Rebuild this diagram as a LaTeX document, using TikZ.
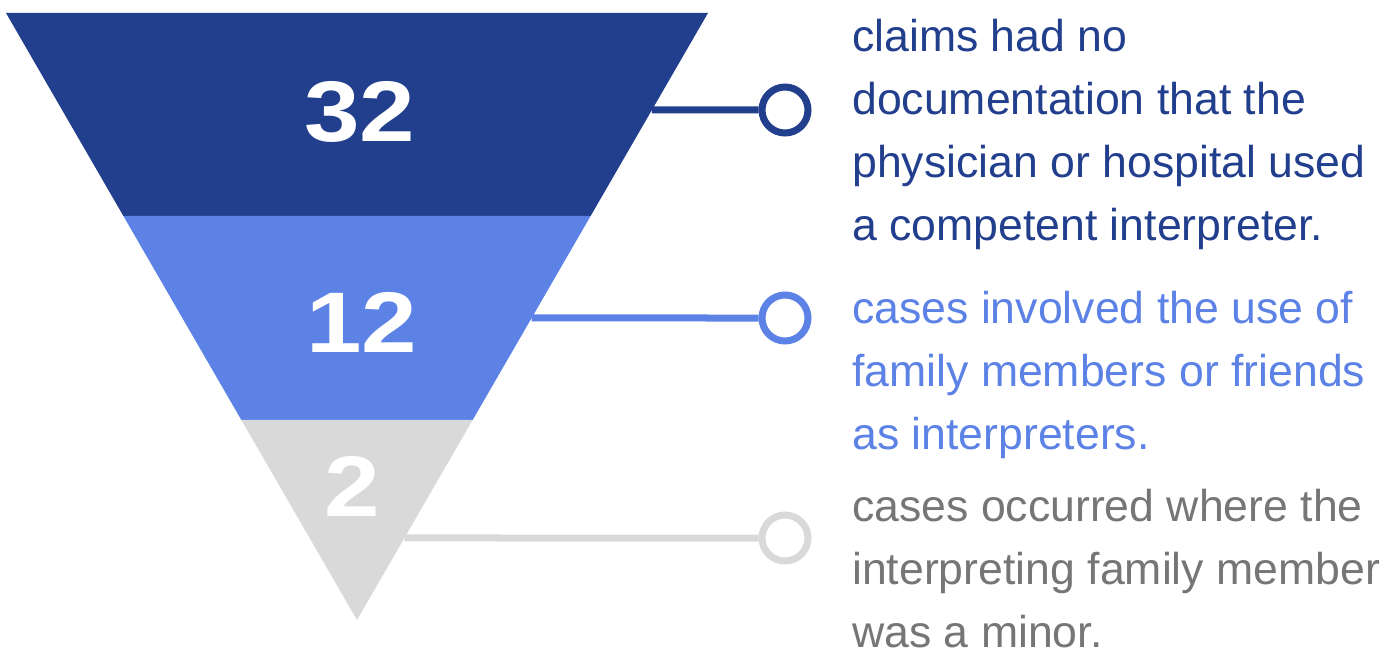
\documentclass[tikz,border=0pt]{standalone}
\usepackage{fontspec}
\setmainfont{Liberation Sans}
\usetikzlibrary{calc}
\definecolor{dblue}{HTML}{223F8E}
\definecolor{mblue}{HTML}{5C82E6}
\definecolor{lgray}{HTML}{D9D9D9}
\definecolor{tgray}{HTML}{767676}
\begin{document}
\begin{tikzpicture}[x=1pt,y=-1pt,
  num/.style={anchor=base,text=white,inner sep=0pt,font=\fontsize{86}{86}\selectfont\bfseries},
  desc/.style={anchor=base west,inner sep=0pt,font=\fontsize{44.6}{63}\selectfont},
  ring/.style={circle,draw,line width=7pt,minimum size=46pt,inner sep=0pt,fill=white},
  conn/.style={line width=7pt}]
\useasboundingbox (0,0) rectangle (1400,650);
% triangle corners
\coordinate (tl) at (6,13);
\coordinate (tr) at (708,13);
\coordinate (ap) at (357,620);
\coordinate (l1) at ($(tl)!203/607!(ap)$);
\coordinate (r1) at ($(tr)!203/607!(ap)$);
\coordinate (l2) at ($(tl)!407/607!(ap)$);
\coordinate (r2) at ($(tr)!407/607!(ap)$);
\fill[dblue] (tl) -- (tr) -- (r1) -- (l1) -- cycle;
\fill[mblue] (l1) -- (r1) -- (r2) -- (l2) -- cycle;
\fill[lgray] (l2) -- (r2) -- (ap) -- cycle;
% edge points for connectors
\coordinate (e1) at ($(tr)!97/607!(ap)$);
\coordinate (e2) at ($(tr)!305/607!(ap)$);
\coordinate (e3) at ($(tr)!525/607!(ap)$);
% rings
\node[ring,draw=dblue] (c1) at (785,110) {};
\node[ring,draw=mblue] (c2) at (785,318) {};
\node[ring,draw=lgray] (c3) at (785,538) {};
\draw[conn,dblue] (e1) -- (c1.west);
\draw[conn,mblue] (e2) -- (c2.west);
\draw[conn,lgray] (e3) -- (c3.west);
% numbers
\node[num] (n1) at (360,142) {\scalebox{1.16}[1]{32}};
\node[num] (n2) at (362,352) {\scalebox{1.16}[1]{12}};
\node[num] (n3) at (352,516) {\scalebox{1.16}[1]{2}};
% texts
\node[desc,text=dblue] (t1) at (852,52) {\parbox[t]{560pt}{\raggedright claims had no\\documentation that the\\physician or hospital used\\a competent interpreter.}};
\node[desc,text=mblue] (t2) at (852,323) {\parbox[t]{560pt}{\raggedright cases involved the use of\\family members or friends\\as interpreters.}};
\node[desc,text=tgray] (t3) at (852,521) {\parbox[t]{560pt}{\raggedright cases occurred where the\\interpreting family member\\was a minor.}};
\end{tikzpicture}
\end{document}
